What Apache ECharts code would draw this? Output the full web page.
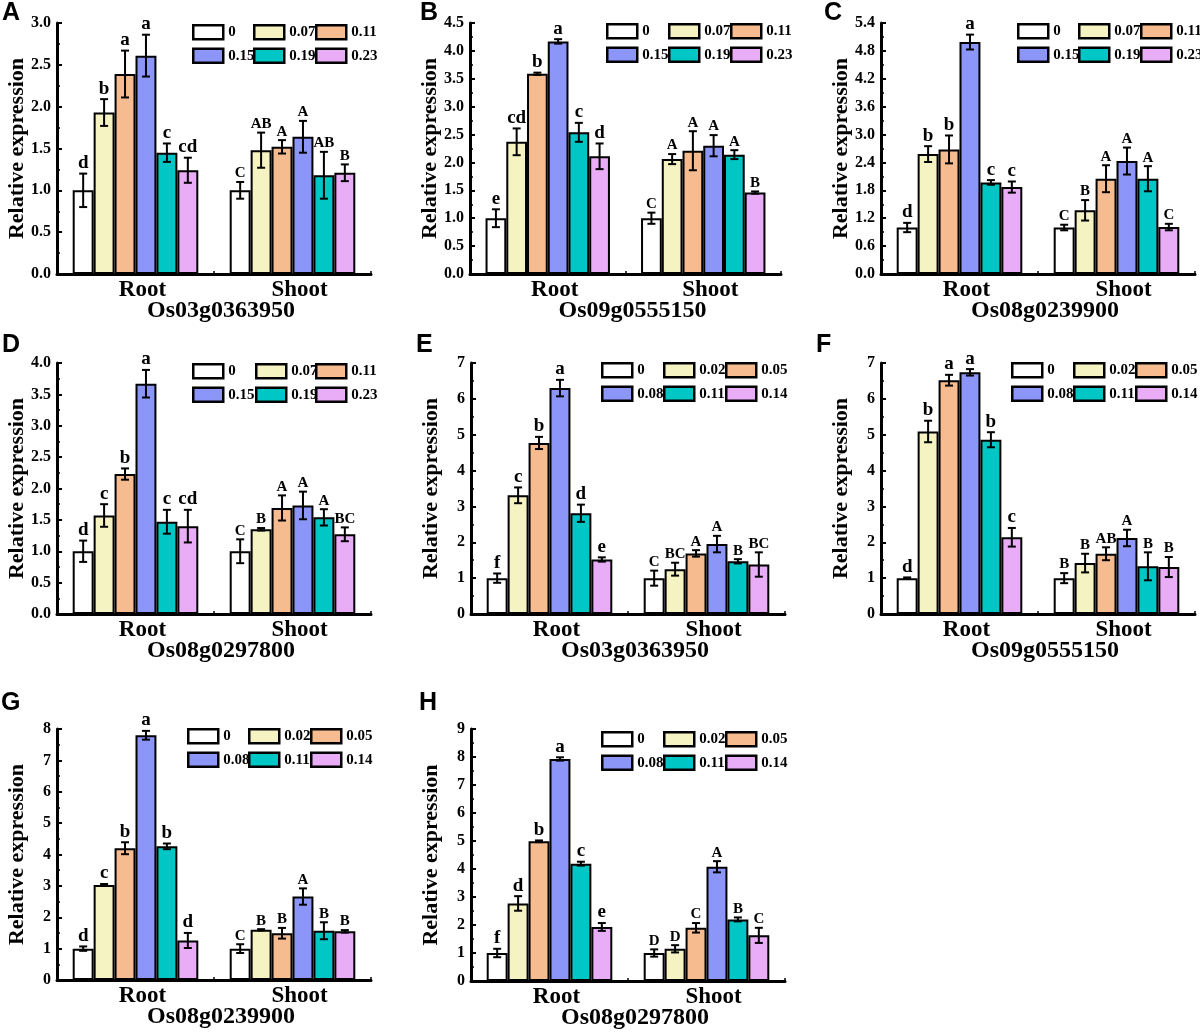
<!DOCTYPE html>
<html>
<head>
<meta charset="utf-8">
<script src="https://cdn.jsdelivr.net/npm/echarts@6/dist/echarts.min.js"></script>
<style>
  body { margin: 0; background: #fff; }
  #wrap { position: relative; width: 1200px; height: 1032px; background: #fff; overflow: hidden; }
  .panel { position: absolute; }
</style>
</head>
<body>
<div id="wrap"></div>
<script>
// categories and legend labels
const tissues = ['Root', 'Shoot'];
const dosesHigh = ['0', '0.07', '0.11', '0.15', '0.19', '0.23'];
const dosesLow = ['0', '0.02', '0.05', '0.08', '0.11', '0.14'];

// A - Os03g0363950
const aRoot = [1.00, 1.93, 2.39, 2.61, 1.45, 1.24];
const aRootErr = [0.20, 0.16, 0.28, 0.25, 0.11, 0.15];
const aShoot = [1.00, 1.48, 1.52, 1.64, 1.18, 1.21];
const aShootErr = [0.10, 0.21, 0.08, 0.19, 0.28, 0.10];
const aRootSig = ['d', 'b', 'a', 'a', 'c', 'cd'];
const aShootSig = ['C', 'AB', 'A', 'A', 'AB', 'B'];

// B - Os09g0555150
const bRoot = [1.00, 2.37, 3.59, 4.17, 2.54, 2.11];
const bRootErr = [0.16, 0.24, 0.02, 0.04, 0.17, 0.23];
const bShoot = [1.00, 2.06, 2.21, 2.30, 2.14, 1.46];
const bShootErr = [0.10, 0.09, 0.35, 0.19, 0.08, 0.02];
const bRootSig = ['e', 'cd', 'b', 'a', 'c', 'd'];
const bShootSig = ['C', 'A', 'A', 'A', 'A', 'B'];

// C - Os08g0239900
const cRoot = [1.00, 2.58, 2.68, 4.99, 1.97, 1.87];
const cRootErr = [0.10, 0.17, 0.30, 0.16, 0.05, 0.12];
const cShoot = [1.00, 1.37, 2.05, 2.43, 2.05, 1.01];
const cShootErr = [0.06, 0.22, 0.29, 0.29, 0.27, 0.07];
const cRootSig = ['d', 'b', 'b', 'a', 'c', 'c'];
const cShootSig = ['C', 'B', 'A', 'A', 'A', 'C'];

// D - Os08g0297800
const dRoot = [1.00, 1.57, 2.23, 3.67, 1.47, 1.40];
const dRootErr = [0.17, 0.18, 0.09, 0.22, 0.19, 0.26];
const dShoot = [1.00, 1.35, 1.69, 1.73, 1.54, 1.27];
const dShootErr = [0.19, 0.02, 0.20, 0.22, 0.13, 0.11];
const dRootSig = ['d', 'c', 'b', 'a', 'c', 'cd'];
const dShootSig = ['C', 'B', 'A', 'A', 'A', 'BC'];

// E - Os03g0363950
const eRoot = [1.00, 3.31, 4.77, 6.30, 2.81, 1.52];
const eRootErr = [0.13, 0.22, 0.17, 0.23, 0.24, 0.06];
const eShoot = [1.00, 1.25, 1.69, 1.95, 1.47, 1.38];
const eShootErr = [0.21, 0.18, 0.09, 0.23, 0.06, 0.34];
const eRootSig = ['f', 'c', 'b', 'a', 'd', 'e'];
const eShootSig = ['C', 'BC', 'A', 'A', 'B', 'BC'];

// F - Os09g0555150
const fRoot = [1.00, 5.09, 6.52, 6.74, 4.86, 2.14];
const fRootErr = [0.02, 0.30, 0.15, 0.09, 0.21, 0.26];
const fShoot = [1.00, 1.42, 1.68, 2.12, 1.33, 1.31];
const fShootErr = [0.14, 0.26, 0.18, 0.23, 0.39, 0.28];
const fRootSig = ['d', 'b', 'a', 'a', 'b', 'c'];
const fShootSig = ['B', 'B', 'AB', 'A', 'B', 'B'];

// G - Os08g0239900
const gRoot = [1.00, 3.03, 4.20, 7.80, 4.26, 1.26];
const gRootErr = [0.07, 0.03, 0.19, 0.14, 0.09, 0.24];
const gShoot = [1.00, 1.60, 1.49, 2.66, 1.57, 1.55];
const gShootErr = [0.14, 0.02, 0.17, 0.26, 0.27, 0.04];
const gRootSig = ['d', 'c', 'b', 'a', 'b', 'd'];
const gShootSig = ['C', 'B', 'B', 'A', 'B', 'B'];

// H - Os08g0297800
const hRoot = [1.00, 2.77, 4.99, 7.93, 4.19, 1.93];
const hRootErr = [0.15, 0.26, 0.03, 0.06, 0.07, 0.14];
const hShoot = [1.00, 1.15, 1.90, 4.08, 2.20, 1.63];
const hShootErr = [0.13, 0.13, 0.17, 0.20, 0.07, 0.27];
const hRootSig = ['f', 'd', 'b', 'a', 'c', 'e'];
const hShootSig = ['D', 'D', 'C', 'A', 'B', 'C'];

const panels = [
  { tag: 'A', gene: 'Os03g0363950', doses: dosesHigh, root: aRoot, rootErr: aRootErr, shoot: aShoot, shootErr: aShootErr, rootSig: aRootSig, shootSig: aShootSig, yMax: 3, yStep: 0.5, dec: 1 },
  { tag: 'B', gene: 'Os09g0555150', doses: dosesHigh, root: bRoot, rootErr: bRootErr, shoot: bShoot, shootErr: bShootErr, rootSig: bRootSig, shootSig: bShootSig, yMax: 4.5, yStep: 0.5, dec: 1 },
  { tag: 'C', gene: 'Os08g0239900', doses: dosesHigh, root: cRoot, rootErr: cRootErr, shoot: cShoot, shootErr: cShootErr, rootSig: cRootSig, shootSig: cShootSig, yMax: 5.4, yStep: 0.6, dec: 1 },
  { tag: 'D', gene: 'Os08g0297800', doses: dosesHigh, root: dRoot, rootErr: dRootErr, shoot: dShoot, shootErr: dShootErr, rootSig: dRootSig, shootSig: dShootSig, yMax: 4, yStep: 0.5, dec: 1 },
  { tag: 'E', gene: 'Os03g0363950', doses: dosesLow, root: eRoot, rootErr: eRootErr, shoot: eShoot, shootErr: eShootErr, rootSig: eRootSig, shootSig: eShootSig, yMax: 7, yStep: 1, dec: 0 },
  { tag: 'F', gene: 'Os09g0555150', doses: dosesLow, root: fRoot, rootErr: fRootErr, shoot: fShoot, shootErr: fShootErr, rootSig: fRootSig, shootSig: fShootSig, yMax: 7, yStep: 1, dec: 0 },
  { tag: 'G', gene: 'Os08g0239900', doses: dosesLow, root: gRoot, rootErr: gRootErr, shoot: gShoot, shootErr: gShootErr, rootSig: gRootSig, shootSig: gShootSig, yMax: 8, yStep: 1, dec: 0 },
  { tag: 'H', gene: 'Os08g0297800', doses: dosesLow, root: hRoot, rootErr: hRootErr, shoot: hShoot, shootErr: hShootErr, rootSig: hRootSig, shootSig: hShootSig, yMax: 9, yStep: 1, dec: 0 }
];

// where each panel sits on the page (div box, grid, legend columns, tag letter)
const layouts = [
  { x: 0,   y: 0,   w: 400, h: 345, gl: 57, gt: 23, gw: 314, gh: 251, lx: [192, 253, 315], ly: 24, tx: 2,  ty: 1 },
  { x: 400, y: 0,   w: 400, h: 345, gl: 70, gt: 23, gw: 311, gh: 251, lx: [206, 268, 330], ly: 23, tx: 20, ty: 1 },
  { x: 800, y: 0,   w: 400, h: 345, gl: 81, gt: 23, gw: 314, gh: 251, lx: [217, 278, 340], ly: 23, tx: 24, ty: 1 },
  { x: 0,   y: 330, w: 400, h: 350, gl: 57, gt: 33, gw: 314, gh: 251, lx: [192, 255, 315], ly: 33, tx: 2,  ty: 3 },
  { x: 400, y: 330, w: 400, h: 350, gl: 71, gt: 33, gw: 314, gh: 251, lx: [201, 263, 325], ly: 32, tx: 16, ty: 3 },
  { x: 800, y: 330, w: 400, h: 350, gl: 81, gt: 33, gw: 314, gh: 251, lx: [211, 273, 335], ly: 32, tx: 16, ty: 3 },
  { x: 0,   y: 690, w: 400, h: 342, gl: 57, gt: 39, gw: 314, gh: 251, lx: [187, 248, 310], ly: 38, tx: 1,  ty: 1 },
  { x: 400, y: 690, w: 400, h: 342, gl: 71, gt: 39, gw: 314, gh: 252, lx: [201, 263, 325], ly: 41, tx: 19, ty: 1 }
];

const colors = ['#ffffff', '#f6f3c3', '#f6bc8f', '#8b96f8', '#00c6c6', '#e9acf6'];
const serif = "'Liberation Serif', 'Times New Roman', serif";

function buildOption(p, L) {
  const series = [];
  p.doses.forEach(function (d, i) {
    series.push({
      name: d,
      type: 'bar',
      data: [p.root[i], p.shoot[i]],
      barGap: '0%',
      barCategoryGap: '20%',
      itemStyle: { color: colors[i], borderColor: '#000', borderWidth: 2 },
      z: 2
    });
  });
  // error bars + significance letters
  p.doses.forEach(function (d, i) {
    series.push({
      name: 'err' + i,
      type: 'custom',
      z: 5,
      encode: { x: 0, y: 1 },
      data: [[0, p.root[i], p.rootErr[i]], [1, p.shoot[i], p.shootErr[i]]],
      renderItem: function (params, api) {
        const cat = api.value(0), v = api.value(1), e = api.value(2);
        const band = api.size([1, 0])[0];
        const bw = band * 0.8 / 6;
        const x = api.coord([cat, v])[0] + (i - 2.5) * bw;
        const yT = api.coord([cat, v + e])[1];
        const yB = api.coord([cat, v - e])[1];
        const sig = cat === 0 ? p.rootSig[i] : p.shootSig[i];
        const st = { stroke: '#000', lineWidth: 2 };
        return {
          type: 'group',
          children: [
            { type: 'line', shape: { x1: x, y1: yT, x2: x, y2: yB }, style: st },
            { type: 'line', shape: { x1: x - 4, y1: yT, x2: x + 4, y2: yT }, style: st },
            { type: 'line', shape: { x1: x - 4, y1: yB, x2: x + 4, y2: yB }, style: st },
            {
              type: 'text', x: x, y: yT - 1,
              style: {
                text: sig, textAlign: 'center', textVerticalAlign: 'bottom',
                fontFamily: serif, fontWeight: 'bold', fontSize: cat === 0 ? 19 : 15, fill: '#000'
              }
            }
          ]
        };
      }
    });
  });

  const legends = [0, 1, 2].map(function (c) {
    return {
      data: [p.doses[c], p.doses[c + 3]],
      orient: 'vertical',
      left: L.lx[c],
      top: L.ly,
      padding: 0,
      itemWidth: 30,
      itemHeight: 14,
      itemGap: 7,
      icon: 'rect',
      selectedMode: false,
      itemStyle: { borderColor: '#000', borderWidth: 2.5 },
      textStyle: { fontFamily: serif, fontWeight: 'bold', fontSize: 15, color: '#000', lineHeight: 14 }
    };
  });

  return {
    animation: false,
    backgroundColor: 'transparent',
    title: {
      text: p.tag, left: L.tx, top: L.ty, padding: 0,
      textStyle: { fontFamily: "'Liberation Sans', Arial, sans-serif", fontWeight: 'bold', fontSize: 25, color: '#000' }
    },
    legend: legends,
    grid: { left: L.gl, top: L.gt, width: L.gw, height: L.gh, outerBoundsMode: 'none', containLabel: false },
    xAxis: {
      type: 'category',
      data: tissues,
      name: p.gene,
      nameLocation: 'middle',
      nameGap: 25,
      nameMoveOverlap: false,
      nameTextStyle: { fontFamily: serif, fontWeight: 'bold', fontSize: 24, color: '#000', padding: [0, 0, 0, 14] },
      axisLine: { lineStyle: { color: '#000', width: 3 } },
      axisTick: { show: true, inside: true, length: 3, lineStyle: { color: '#000', width: 1.5 } },
      axisLabel: { fontFamily: serif, fontWeight: 'bold', fontSize: 23, color: '#000', margin: 5, padding: [0, 0, 0, 14] }
    },
    yAxis: {
      type: 'value',
      min: 0,
      max: p.yMax,
      interval: p.yStep,
      name: 'Relative expression',
      nameLocation: 'middle',
      nameGap: 29,
      nameMoveOverlap: false,
      nameTextStyle: { fontFamily: serif, fontWeight: 'bold', fontSize: 22, color: '#000' },
      axisLine: { show: true, lineStyle: { color: '#000', width: 3 } },
      axisTick: { show: true, inside: true, length: 5, lineStyle: { color: '#000', width: 2 } },
      minorTick: { show: true, splitNumber: 2, length: 3, lineStyle: { color: '#000', width: 1.5 } },
      splitLine: { show: false },
      axisLabel: {
        fontFamily: serif, fontWeight: 'bold', fontSize: 16, color: '#000', margin: 6,
        formatter: function (v) { return v.toFixed(p.dec); }
      }
    },
    series: series
  };
}

const wrap = document.getElementById('wrap');
panels.forEach(function (p, k) {
  const L = layouts[k];
  const el = document.createElement('div');
  el.className = 'panel';
  el.style.left = L.x + 'px';
  el.style.top = L.y + 'px';
  el.style.width = L.w + 'px';
  el.style.height = L.h + 'px';
  wrap.appendChild(el);
  const chart = echarts.init(el, null, { renderer: 'canvas' });
  chart.setOption(buildOption(p, L));
});
</script>
</body>
</html>
